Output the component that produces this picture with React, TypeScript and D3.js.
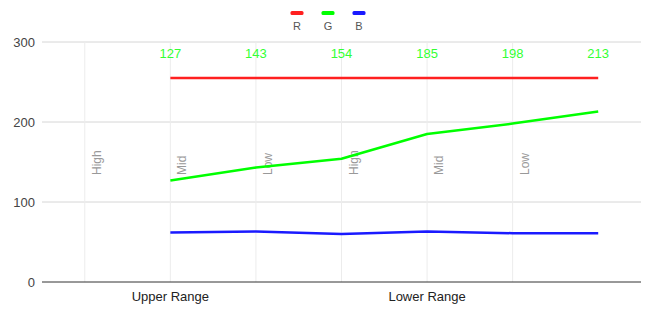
import React, { useEffect, useRef } from "react";
import * as d3 from "d3";

const levels = ["High", "Mid", "Low", "High", "Mid", "Low", ""];
const groups = [
  { name: "Upper Range", from: 0, to: 2 },
  { name: "Lower Range", from: 3, to: 5 },
];
// values start at the 2nd slot
const rValues = [null, 255, 255, 255, 255, 255, 255];
const gValues = [null, 127, 143, 154, 185, 198, 213];
const bValues = [null, 62, 63, 60, 63, 61, 61];
const yTicks = [0, 100, 200, 300];

const series = [
  { name: "R", color: "#ff2020", values: rValues },
  { name: "G", color: "#00ff00", values: gValues },
  { name: "B", color: "#1a1aff", values: bValues },
];

const App = () => {
  const ref = useRef<SVGSVGElement>(null);

  useEffect(() => {
    const width = 647;
    const height = 310;
    const margin = { top: 42, right: 6, bottom: 28, left: 42 };
    const font = "Arial, 'Liberation Sans', sans-serif";

    const svg = d3.select(ref.current);
    svg.selectAll("*").remove();

    const idx = levels.map((_, i) => i);
    const x = d3.scalePoint<number>()
      .domain(idx)
      .range([margin.left, width - margin.right])
      .padding(0.5);

    const y = d3.scaleLinear()
      .domain([0, 300])
      .range([height - margin.bottom, margin.top]);

    // horizontal gridlines
    svg.append("g")
      .selectAll("line")
      .data(yTicks.filter(t => t > 0))
      .enter().append("line")
      .attr("x1", margin.left)
      .attr("x2", width - margin.right)
      .attr("y1", d => y(d))
      .attr("y2", d => y(d))
      .attr("stroke", "#d6d6d6")
      .attr("stroke-width", 1);

    // vertical gridlines
    svg.append("g")
      .selectAll("line")
      .data(idx.slice(0, 6))
      .enter().append("line")
      .attr("x1", d => x(d)!)
      .attr("x2", d => x(d)!)
      .attr("y1", y(300))
      .attr("y2", y(0))
      .attr("stroke", "#ececec")
      .attr("stroke-width", 1);

    // y labels
    svg.append("g")
      .selectAll("text")
      .data(yTicks)
      .enter().append("text")
      .attr("x", margin.left - 7)
      .attr("y", d => y(d))
      .attr("dy", "0.35em")
      .attr("text-anchor", "end")
      .attr("font-family", font)
      .attr("font-size", 13)
      .attr("fill", "#444")
      .text(d => d);

    // rotated level labels
    svg.append("g")
      .selectAll("text")
      .data(levels.filter(l => l))
      .enter().append("text")
      .attr("transform", (d, i) => `translate(${x(i)! + 16},175) rotate(-90)`)
      .attr("font-family", font)
      .attr("font-size", 12)
      .attr("fill", "#999")
      .text(d => d);

    // lines
    const line = d3.line<number | null>()
      .defined(d => d != null)
      .x((d, i) => x(i)!)
      .y(d => y(d as number));

    series.forEach(s => {
      svg.append("path")
        .datum(s.values)
        .attr("fill", "none")
        .attr("stroke", s.color)
        .attr("stroke-width", 2.5)
        .attr("stroke-linejoin", "round")
        .attr("d", line);
    });

    // value labels for G at the top
    const gLabels = gValues
      .map((v, i) => ({ v, i }))
      .filter(d => d.v != null);

    svg.append("g")
      .selectAll("text")
      .data(gLabels)
      .enter().append("text")
      .attr("x", d => x(d.i)!)
      .attr("y", 58)
      .attr("text-anchor", "middle")
      .attr("font-family", font)
      .attr("font-size", 13)
      .attr("fill", "#33ff33")
      .text(d => d.v as number);

    // baseline
    svg.append("line")
      .attr("x1", margin.left)
      .attr("x2", width - margin.right)
      .attr("y1", y(0))
      .attr("y2", y(0))
      .attr("stroke", "#333")
      .attr("stroke-width", 1);

    // group labels
    svg.append("g")
      .selectAll("text")
      .data(groups)
      .enter().append("text")
      .attr("x", d => (x(d.from)! + x(d.to)!) / 2)
      .attr("y", 301)
      .attr("text-anchor", "middle")
      .attr("font-family", font)
      .attr("font-size", 13)
      .attr("fill", "#222")
      .text(d => d.name);

    // legend
    const legend = svg.append("g")
      .selectAll("g")
      .data(series)
      .enter().append("g")
      .attr("transform", (d, i) => `translate(${297 + i * 31},0)`);

    legend.append("rect")
      .attr("x", -6.5)
      .attr("y", 11)
      .attr("width", 13)
      .attr("height", 4)
      .attr("rx", 1.5)
      .attr("fill", d => d.color);

    legend.append("text")
      .attr("y", 30)
      .attr("text-anchor", "middle")
      .attr("font-family", font)
      .attr("font-size", 11)
      .attr("fill", "#555")
      .text(d => d.name);
  }, []);

  return (
    <svg
      ref={ref}
      width={647}
      height={310}
      style={{ position: "absolute", left: 0, top: 0, background: "#fff" }}
    ></svg>
  );
};

export default App;
